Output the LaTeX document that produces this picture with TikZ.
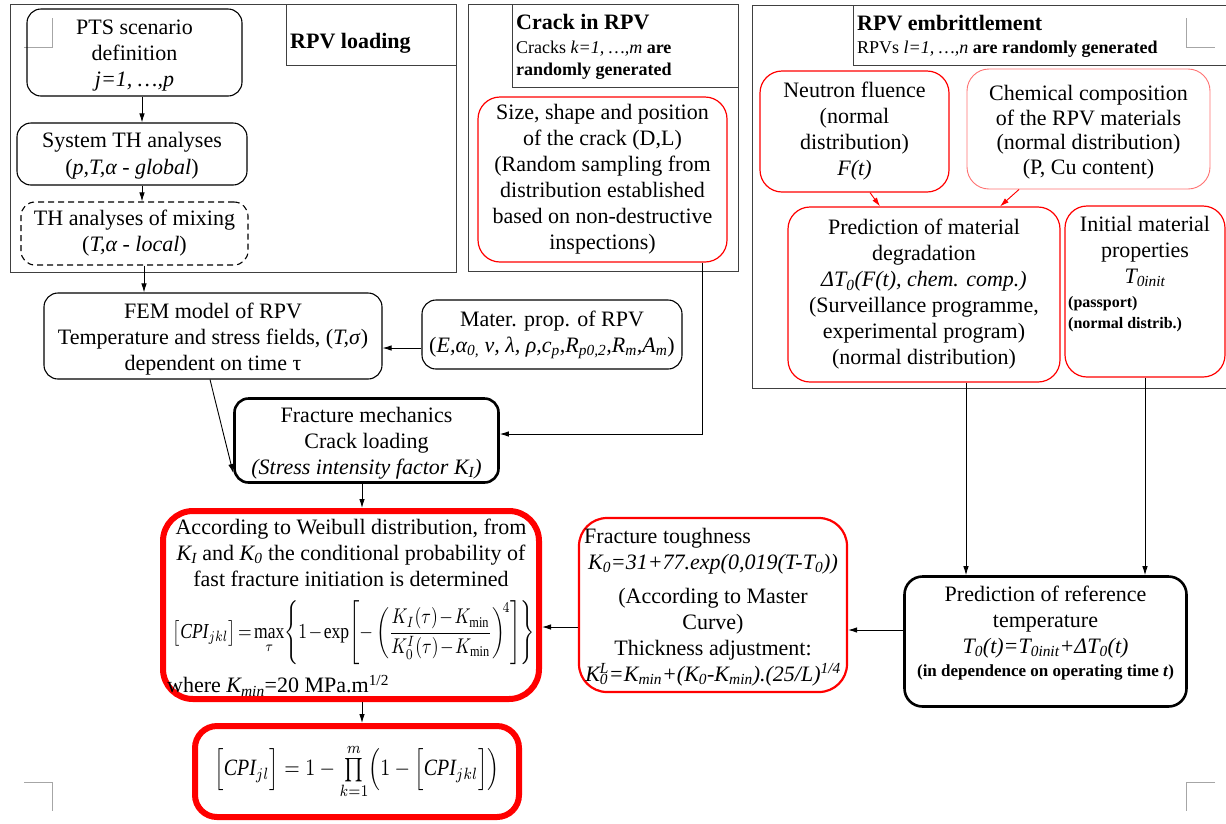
\documentclass[tikz,border=0pt]{standalone}
\usepackage{fontspec}
\setmainfont{Liberation Serif}
\usepackage{graphicx}
\usepackage{amsmath}
\usetikzlibrary{arrows.meta,calc}
\newcommand\mainsz{\fontsize{22}{26}\selectfont}
\newcommand\subsz{\fontsize{18}{22}\selectfont}
\newcommand\smallsz{\fontsize{16}{21}\selectfont}
\newcommand\tsb[1]{\textsubscript{#1}}
\newcommand\tsp[1]{\textsuperscript{#1}}
\newcommand\pushdn[1]{\rule{0pt}{#1}}
\begin{document}
\begin{tikzpicture}[x=1pt,y=-1pt,
  frame/.style={draw=black!75, line width=0.9pt},
  bx/.style={draw=black, line width=1.1pt, rounded corners=14pt, align=center, inner sep=0pt, font=\mainsz},
  redbx/.style={draw=red, line width=1.2pt, rounded corners=22pt, align=center, inner sep=0pt, font=\mainsz},
  thickred/.style={draw=red, line width=6pt, inner sep=0pt},
  txt/.style={inner sep=0pt, align=center, font=\mainsz},
  hdr/.style={inner sep=0pt, anchor=west, font=\mainsz\bfseries},
  arr/.style={-{Latex[length=9pt,width=5.5pt]}, line width=0.9pt},
  redarr/.style={arr, draw=red, fill=red},
  crop/.style={draw=black!35, line width=0.8pt}]

\useasboundingbox (0,0) rectangle (1226,823);
\fill[white] (0,0) rectangle (1226,823);

% crop marks
\draw[crop] (24,47) -- (52,47) -- (52,18);
\draw[crop] (1186,18) -- (1186,47) -- (1215,47);
\draw[crop] (24,782) -- (52,782) -- (52,811);
\draw[crop] (1215,782) -- (1186,782) -- (1186,811);

% frames
\draw[frame] (10,4) rectangle (456,272);
\draw[frame] (286,4) rectangle (456,65);
\node[hdr] (hload) at (290,43) {RPV loading};

\draw[frame] (468,4) rectangle (738,271);
\draw[frame] (512,4) rectangle (738,87);
\node[hdr] (hcrack) at (516,22) {Crack in RPV};
\node[inner sep=0pt, anchor=north west, align=left, font=\subsz] (scrack) at (516,41) {Cracks \textit{k=1, …,m} \textbf{are}\\\textbf{randomly generated}};

\draw[frame] (752,5) rectangle (1232,388);
\draw[frame] (853,5) rectangle (1232,65);
\node[hdr] (hemb) at (857,23) {RPV embrittlement};
\node[inner sep=0pt, anchor=west, font=\subsz] (semb) at (857,49) {RPVs \textit{l=1, …,n} \textbf{are randomly generated}};

% RPV loading column
\node[bx, minimum width=215pt, minimum height=87pt] (pts) at (134.5,52.5) {\pushdn{21pt}PTS scenario\\definition\\\textit{j=1, …,p}};
\node[bx, minimum width=230pt, minimum height=62pt] (systh) at (132,154) {\pushdn{18pt}System TH analyses\\[1pt](\textit{p,T,α - global})};
\node[bx, dash pattern=on 6pt off 4pt, minimum width=227pt, minimum height=63pt] (mix) at (134.5,233.5) {TH analyses of mixing\\(\textit{T,α - local})};

\node[bx, minimum width=338pt, minimum height=86pt] (fem) at (213,336) {\pushdn{22.5pt}FEM model of RPV\\Temperature and stress fields, (\textit{T,σ})\\dependent on time τ};
\node[bx, minimum width=260pt, minimum height=69pt] (mater) at (552,334.5) {Mater. prop. of RPV\\(\textit{E,α\tsb{0,} ν, λ, ρ,c\tsb{p},R\tsb{p0,2},R\tsb{m},A\tsb{m}})};
\node[bx, line width=2.6pt, minimum width=264pt, minimum height=84pt] (fract) at (366.5,440.5) {\pushdn{21pt}Fracture mechanics\\Crack loading\\\textit{(Stress intensity factor K\tsb{I})}};

% crack
\node[redbx, minimum width=249pt, minimum height=165pt] (crack) at (602.5,179.5) {Size, shape and position\\of the crack (D,L)\\(Random sampling from\\distribution established\\based on non-destructive\\inspections)};

% embrittlement
\node[redbx, minimum width=189pt, minimum height=121pt] (neutron) at (854.5,131.5) {Neutron fluence\\(normal\\distribution)\\\textit{F(t)}};
\node[redbx, draw=red!55, line width=0.9pt, minimum width=243pt, minimum height=120pt, font=\fontsize{22}{24.5}\selectfont] (chem) at (1088.5,129) {\pushdn{22pt}Chemical composition\\of the RPV materials\\(normal distribution)\\(P, Cu content)};
\node[redbx, minimum width=272pt, minimum height=175pt] (preddeg) at (924,294.5) {Prediction of material\\degradation\\\textit{ΔT\tsb{0}(F(t), chem. comp.)}\\(Surveillance programme,\\experimental program)\\(normal distribution)};
\node[redbx, minimum width=160pt, minimum height=171pt] (init) at (1145,291.5) {};
\node[txt, anchor=north] (initt) at (1145,216) {Initial material\\properties\\\textit{T\tsb{0init}}};
\node[inner sep=0pt, anchor=north west, align=left, font=\smallsz\bfseries] (initp) at (1068,296) {(passport)\\(normal distrib.)};

% reference temperature
\node[bx, line width=2.6pt, rounded corners=18pt, minimum width=282pt, minimum height=130pt] (reft) at (1045.5,641.5) {};
\node[txt, anchor=north] (reftt) at (1045.5,586) {Prediction of reference\\temperature\\\textit{T\tsb{0}(t)=T\tsb{0init}+ΔT\tsb{0}(t)}};
\node[inner sep=0pt, anchor=north, font=\fontsize{17}{20}\selectfont\bfseries] (refts) at (1045.5,664) {(in dependence on operating time \textit{t})};

% fracture toughness
\node[redbx, line width=2.2pt, rounded corners=28pt, minimum width=268pt, minimum height=174pt] (ft) at (713,605) {};
\node[inner sep=0pt, anchor=north west, font=\mainsz] (ft1) at (584,528) {Fracture toughness};
\node[txt, anchor=north] (ft2) at (713,554) {\textit{K\tsb{0}=31+77.exp(0,019(T-T\tsb{0}))}};
\node[txt, anchor=north] (ft3) at (713,588) {(According to Master\\Curve)\\Thickness adjustment:\\\textit{K\rlap{\tsb{0}}\tsp{L}=K\tsb{min}+(K\tsb{0}-K\tsb{min}).(25/L)\tsp{1/4}}};

% Weibull
\node[thickred, rounded corners=30pt, minimum width=376pt, minimum height=188pt] (weib) at (351,605) {};
\node[txt, anchor=north] (weibt) at (351,519) {According to Weibull distribution, from\\\textit{K\tsb{I}} and \textit{K\tsb{0}} the conditional probability of\\fast fracture initiation is determined};
\node[inner sep=0pt] (weibf) at (354,633) {\resizebox*{362pt}{64pt}{$\medmuskip=1.5mu\thickmuskip=2.5mu\bigl[\mathit{CPI}_{jkl}\bigr]=\max\limits_{\tau}\!\left\{1-\exp\!\left[-\left(\dfrac{K_I(\tau)-K_{\min}}{K_0^{I}(\tau)-K_{\min}}\right)^{\!4}\right]\right\}$}};
\node[inner sep=0pt, anchor=north west, font=\mainsz] (weibw) at (167,675) {where \textit{K\tsb{min}}=20 MPa.m\tsp{1/2}};

% final
\node[thickred, rounded corners=22pt, minimum width=324pt, minimum height=91pt] (final) at (357,771.5) {\resizebox*{285pt}{55pt}{$\Bigl[\mathit{CPI}_{jl}\Bigr]=1-\prod\limits_{k=1}^{m}\Bigl(1-\Bigl[\mathit{CPI}_{jkl}\Bigr]\Bigr)$}};

% helper coordinates
\coordinate (x142) at (142,0);
\coordinate (x144) at (144,0);
\coordinate (x210) at (210,0);
\coordinate (x362) at (362,0);
\coordinate (x702) at (702,0);
\coordinate (x966) at (966,0);
\coordinate (c348) at (0,348);
\coordinate (c434) at (0,434);
\coordinate (c473) at (0,473);
\coordinate (c627) at (0,627);
\coordinate (c630) at (0,630);

% connectors
\draw[arr] (pts.south -| x142) -- (systh.north -| x142);
\draw[arr] (systh.south -| x142) -- (mix.north -| x142);
\draw[arr] (mix.south -| x144) -- (fem.north -| x144);
\draw[arr] (mater.west |- c348) -- (fem.east |- c348);
\draw[arr] (fem.south -| x210) -- (fract.west |- c473);
\draw[arr] (crack.south -| x702) |- (fract.east |- c434);
\draw[arr] (fract.south -| x362) -- (weib.north -| x362);
\draw[arr] (weib.south -| x362) -- (final.north -| x362);
\draw[arr] (ft.west |- c627) -- (weib.east |- c627);
\draw[arr] (reft.west |- c630) -- (ft.east |- c630);
\draw[arr] (preddeg.south -| x966) -- (reft.north -| x966);
\draw[arr] (init.south) -- (reft.north -| init.south);
\draw[redarr] ($(neutron.south)+(15.5,0)$) -- ($(preddeg.north)+(-44,0)$);
\draw[redarr] ($(chem.south)+(-69.5,0)$) -- ($(preddeg.north)+(76,0)$);
\end{tikzpicture}
\end{document}
